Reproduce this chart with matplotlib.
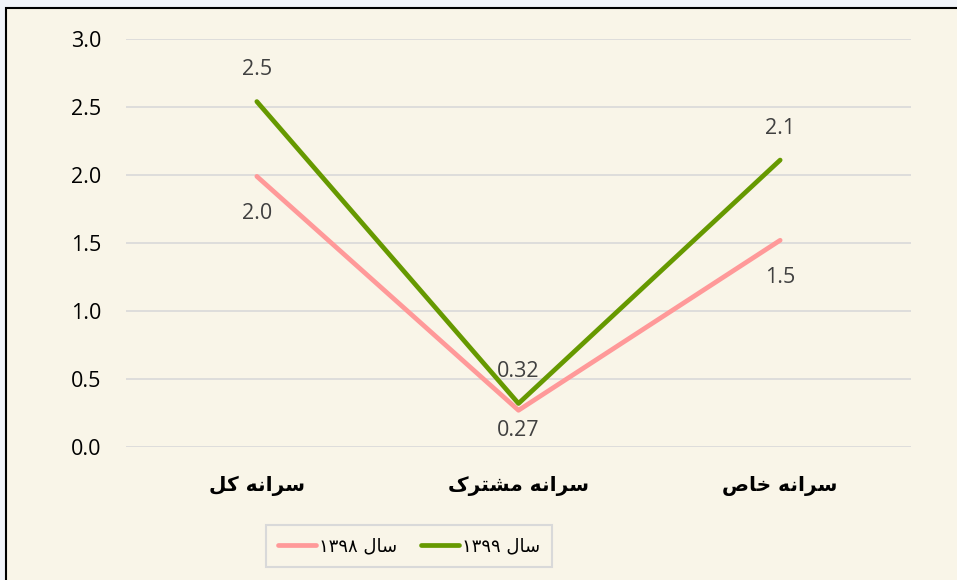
import matplotlib
matplotlib.use("Agg")
import matplotlib.pyplot as plt
from matplotlib.patches import Rectangle

# Persian text is written as visual-order presentation forms (no shaping engine in matplotlib)
categories = [
    "\uFEDE\uFB90 \uFEEA\uFEE7\uFE8D\uFEAE\uFEB3",                          # سرانه کل
    "\uFB8E\uFEAE\uFE98\uFEB8\uFEE3 \uFEEA\uFEE7\uFE8D\uFEAE\uFEB3",        # سرانه مشترک
    "\uFEB9\uFE8E\uFEA7 \uFEEA\uFEE7\uFE8D\uFEAE\uFEB3",                    # سرانه خاص
]
series_names = [
    "\u06F1\u06F3\u06F9\u06F8 \uFEDD\uFE8E\uFEB3",   # سال ۱۳۹۸
    "\u06F1\u06F3\u06F9\u06F9 \uFEDD\uFE8E\uFEB3",   # سال ۱۳۹۹
]
values_1398 = [1.99, 0.27, 1.52]
values_1399 = [2.54, 0.32, 2.11]
labels_1398 = ["2.0", "0.27", "1.5"]
labels_1399 = ["2.5", "0.32", "2.1"]
yticks = [0.0, 0.5, 1.0, 1.5, 2.0, 2.5, 3.0]

bg = "#F9F5E8"
pink = "#FF9999"
green = "#669900"
num_font = "Open Sans"

fig = plt.figure(figsize=(9.57, 5.80), dpi=100)
fig.patch.set_facecolor("#F1F4F9")
fig.patches.append(Rectangle((6 / 957, -0.1), 1.2, 1 - 8 / 580 + 0.1,
                             transform=fig.transFigure, facecolor=bg,
                             edgecolor="black", linewidth=1.5, zorder=-10))

ax = fig.add_axes([126 / 957, 1 - 447 / 580, (911 - 126) / 957, (447 - 39) / 580])
ax.set_facecolor("none")
ax.set_zorder(2)

x = list(range(len(categories)))
ax.plot(x, values_1398, color=pink, linewidth=3.4, label=series_names[0],
        solid_capstyle="round", zorder=3)
ax.plot(x, values_1399, color=green, linewidth=3.4, label=series_names[1],
        solid_capstyle="round", zorder=4)

# labels above the 1399 line, below the 1398 line (kept inside the plot area)
for xi, v, lab in zip(x, values_1399, labels_1399):
    ax.text(xi, v + 0.235, lab, ha="center", va="center", fontsize=15.5,
            color="#404040", family=num_font)
for xi, v, lab in zip(x, values_1398, labels_1398):
    ax.text(xi, max(v - 0.272, 0.12), lab, ha="center", va="center",
            fontsize=15.5, color="#404040", family=num_font)

ax.set_xlim(-0.5, 2.5)
ax.set_ylim(0, 3.0)
ax.set_yticks(yticks)
ax.set_yticklabels([f"{t:.1f}" for t in yticks], family=num_font,
                   fontsize=15.5, color="black")
ax.set_xticks(x)
ax.set_xticklabels(categories, fontsize=14.5, fontweight="bold",
                   family="DejaVu Sans")
ax.tick_params(axis="both", length=0)
ax.tick_params(axis="y", pad=18)
ax.tick_params(axis="x", pad=21)
ax.grid(axis="y", color="#D9D9D9", linewidth=1.2)
ax.set_axisbelow(True)
for s in ax.spines.values():
    s.set_visible(False)

leg = fig.legend(loc="center", bbox_to_anchor=(409 / 957, 1 - 546 / 580), ncol=2,
                 frameon=True, fancybox=False, edgecolor="#D9D9D9",
                 facecolor=bg, framealpha=1, handlelength=2.1,
                 handletextpad=0.2, columnspacing=1.3, borderpad=0.65,
                 borderaxespad=0.0, prop={"family": "DejaVu Sans", "size": 13})
leg.get_frame().set_linewidth(1.5)

fig.savefig("out.png", dpi=100, facecolor=fig.get_facecolor())
